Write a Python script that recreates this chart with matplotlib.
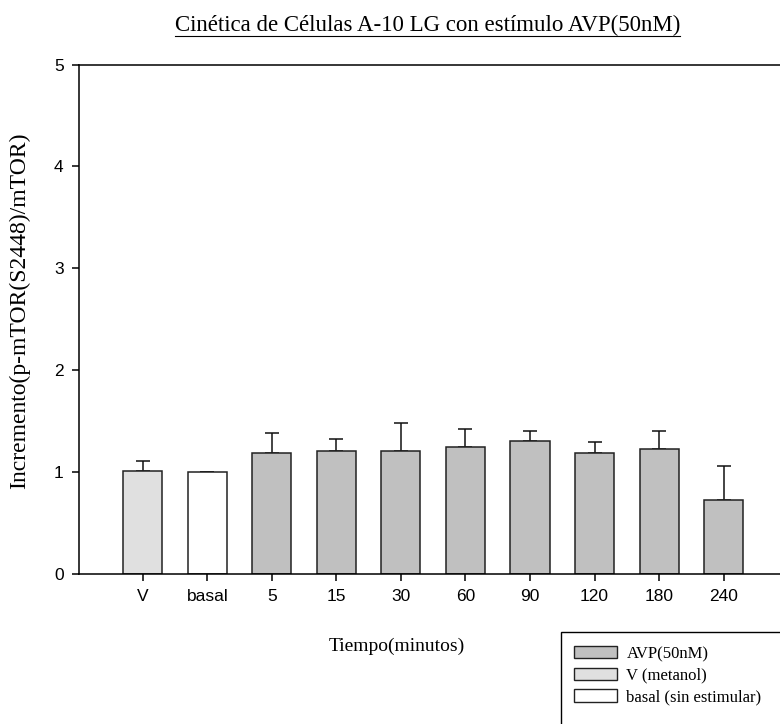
import matplotlib
matplotlib.use("Agg")
import matplotlib.pyplot as plt
from matplotlib.patches import Patch, Rectangle

# Data
categories = ["V", "basal", "5", "15", "30", "60", "90", "120", "180", "240"]
means = [1.01, 1.00, 1.18, 1.20, 1.20, 1.24, 1.30, 1.18, 1.22, 0.72]
errors = [0.10, 0.00, 0.20, 0.12, 0.28, 0.18, 0.10, 0.11, 0.18, 0.34]
groups = ["V", "basal", "AVP", "AVP", "AVP", "AVP", "AVP", "AVP", "AVP", "AVP"]
y_ticks = [0, 1, 2, 3, 4, 5]

group_colors = {"AVP": "#c0c0c0", "V": "#e0e0e0", "basal": "#ffffff"}
group_labels = {"AVP": "AVP(50nM)", "V": "V (metanol)", "basal": "basal (sin estimular)"}

W, H = 780, 724
fig = plt.figure(figsize=(W / 100, H / 100), dpi=100)

# axes extend past the right edge of the canvas
left, right, bottom, top = 79, 790, 573.5, 64.7
ax = fig.add_axes([left / W, 1 - bottom / H, (right - left) / W, (bottom - top) / H])

serif = ["Liberation Serif", "DejaVu Serif"]
sans = ["Liberation Sans", "DejaVu Sans"]

xs = list(range(len(categories)))
colors = [group_colors[g] for g in groups]
ax.bar(xs, means, width=0.605, color=colors, edgecolor="#222222", linewidth=1.1, zorder=2)
ax.errorbar(xs, means, yerr=[[0] * len(errors), errors], fmt="none", ecolor="#111111",
            elinewidth=1.1, capsize=5.3, capthick=1.1, zorder=1)

ax.set_xlim(-0.99, 10.03)
ax.set_ylim(0, 5)
ax.set_xticks(xs)
ax.set_xticklabels(categories, fontfamily=sans, fontsize=12.5)
ax.set_yticks(y_ticks)
ax.set_yticklabels([str(v) for v in y_ticks], fontfamily=sans, fontsize=12.5)
ax.tick_params(direction="out", length=5, width=1.1, pad=6)
for s in ax.spines.values():
    s.set_linewidth(1.1)
ax.spines["right"].set_visible(False)

fig.text(20 / W, 1 - 311 / H, "Incremento(p-mTOR(S2448)/mTOR)", fontfamily=serif,
         fontsize=17, rotation=90, ha="center", va="center")
fig.text(397 / W, 1 - 646 / H, "Tiempo(minutos)", fontfamily=serif, fontsize=14,
         ha="center", va="center")

title = fig.text(427.5 / W, 1 - 31 / H, "Cinética de Células A-10 LG con estímulo AVP(50nM)",
                 fontfamily=serif, fontsize=16.5, ha="center", va="baseline")
# underline beneath the title
fig.canvas.draw()
bb = title.get_window_extent()
uy = 1 - 35.5 / H
fig.add_artist(plt.Line2D([bb.x0 / W, bb.x1 / W], [uy, uy],
                          transform=fig.transFigure, color="black", linewidth=0.8))

# legend frame running off the canvas edge
fig.add_artist(Rectangle((561 / W, -0.05), 0.5, (1 - 632 / H) + 0.05,
                         transform=fig.transFigure, fill=False, edgecolor="black",
                         linewidth=1.0, clip_on=False))
handles = [Patch(facecolor=group_colors[g], edgecolor="#222222", linewidth=1.0,
                 label=group_labels[g]) for g in ["AVP", "V", "basal"]]
fig.legend(handles=handles, loc="upper left", bbox_to_anchor=(574 / W, 1 - 646 / H),
           frameon=False, prop={"family": serif, "size": 12}, handlelength=2.6,
           handleheight=0.75, handletextpad=0.55, labelspacing=0.34, borderpad=0,
           borderaxespad=0)

fig.savefig("out.png", dpi=100)
